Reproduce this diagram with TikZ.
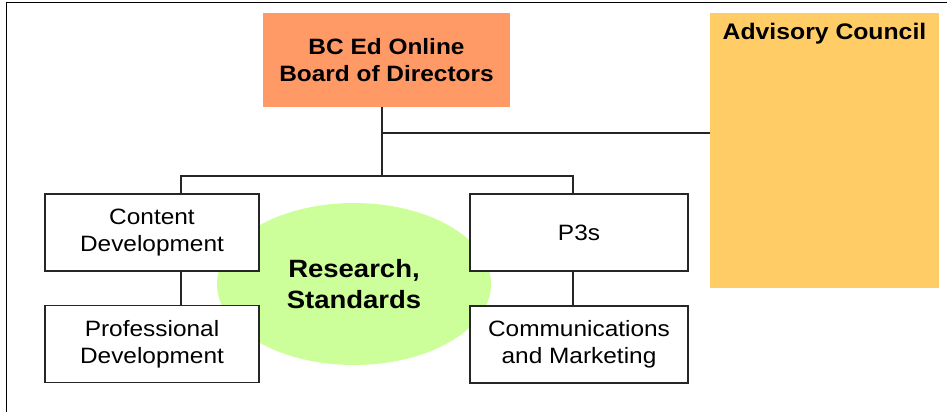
\documentclass[tikz,border=0pt]{standalone}
\usepackage{fontspec}
\setmainfont{Liberation Sans}[FakeStretch=1.1]
\usetikzlibrary{shapes.geometric}
\definecolor{boardc}{HTML}{FF9966}
\definecolor{advc}{HTML}{FFCC66}
\definecolor{ellc}{HTML}{CCFF99}
\tikzset{
  unitbox/.style={draw=black!85, line width=1.3pt, fill=white, minimum width=214pt, minimum height=77pt, inner sep=0pt, align=center, font=\fontsize{22.2}{26.8}\selectfont},
  link/.style={draw=black!85, line width=1.1pt},
}
\begin{document}
\begin{tikzpicture}[x=1pt,y=-1pt]
\useasboundingbox (0,0) rectangle (947,412);
% outer frame
\draw[line width=1.5pt] (6.5,412) -- (6.5,2.5) -- (947,2.5);
% ellipse
\node[ellipse, fill=ellc, minimum width=274pt, minimum height=162pt, inner sep=0pt, align=center, font=\bfseries\fontsize{25}{31.7}\selectfont] (res) at (354,284) {Research,\\Standards};
% board
\node[fill=boardc, minimum width=247pt, minimum height=94pt, inner sep=0pt, align=center, font=\bfseries\fontsize{22.2}{26.7}\selectfont] (board) at (386.5,60) {BC Ed Online\\Board of Directors};
% advisory
\node[fill=advc, minimum width=229pt, minimum height=275pt, inner sep=0pt] (adv) at (824.5,150.5) {};
\node[anchor=base, inner sep=0pt, font=\bfseries\fontsize{22.5}{27}\selectfont] (advt) at (824.5,40) {Advisory Council};
% boxes
\node[unitbox] (cont) at (152,232.5) {Content\\Development};
\node[unitbox] (prof) at (152,344) {Professional\\Development};
\node[unitbox, minimum width=218pt] (p3s) at (579,232.5) {P3s};
\node[unitbox, minimum width=218pt] (comm) at (579,344.5) {Communications\\and Marketing};
% coordinates
\coordinate (trunk) at (382,176);
\coordinate (tap) at (382,133);
\coordinate (lx) at (181,176);
\coordinate (rx) at (573,176);
% connectors
\draw[link] (board.south -| trunk) -- (trunk);
\draw[link] (tap) -- (tap -| adv.west);
\draw[link] (cont.north -| lx) -- (lx) -- (rx) -- (p3s.north -| rx);
\draw[link] (cont.south -| lx) -- (prof.north -| lx);
\draw[link] (p3s.south -| rx) -- (comm.north -| rx);
\end{tikzpicture}
\end{document}
